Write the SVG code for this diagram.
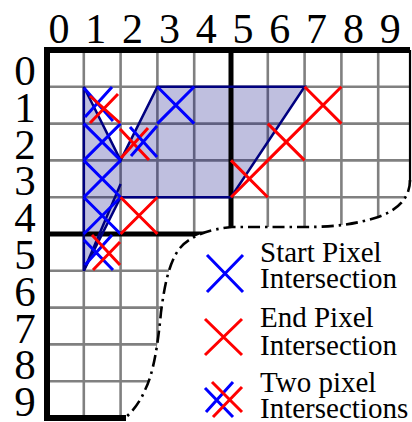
<svg xmlns="http://www.w3.org/2000/svg" width="412" height="422" viewBox="0 0 412 422">
<style>
.lbl{font-family:"Liberation Serif","Times New Roman",serif;fill:#000}
.top{font-size:42px;text-anchor:middle}
.row{font-size:43px;text-anchor:middle}
.leg{font-size:29px}
.grid line{stroke:#808080;stroke-width:2.6}
.b{stroke:#0000ff;stroke-width:3;fill:none}
.r{stroke:#ff0000;stroke-width:3;fill:none}
.thick{stroke:#000;fill:none}
</style>
<defs>
<clipPath id="clip">
<path d="M44,47 H410 V180 C410,200 395,212 375,218 C355,224 335,227 305,227 L232,227 C210,229 190,236 180,248 C168,263 164,290 161,312 C158,345 153,375 145,390 C140,402 133,411 125,418 H44 Z"/>
</clipPath>
</defs>
<g id="col-labels" class="lbl">
<text class="top" x="59" y="43">0</text>
<text class="top" x="95.8" y="43">1</text>
<text class="top" x="132.6" y="43">2</text>
<text class="top" x="169.4" y="43">3</text>
<text class="top" x="206.2" y="43">4</text>
<text class="top" x="243" y="43">5</text>
<text class="top" x="279.8" y="43">6</text>
<text class="top" x="316.6" y="43">7</text>
<text class="top" x="353.4" y="43">8</text>
<text class="top" x="390.2" y="43">9</text>
</g>
<g id="row-labels" class="lbl">
<text class="row" x="25" y="85">0</text>
<text class="row" x="25" y="121.8">1</text>
<text class="row" x="25" y="158.6">2</text>
<text class="row" x="25" y="195.4">3</text>
<text class="row" x="25" y="232.2">4</text>
<text class="row" x="25" y="269">5</text>
<text class="row" x="25" y="305.8">6</text>
<text class="row" x="25" y="342.6">7</text>
<text class="row" x="25" y="379.4">8</text>
<text class="row" x="25" y="416.2">9</text>
</g>
<g id="grid" class="grid" clip-path="url(#clip)">
<line x1="83.8" y1="50" x2="83.8" y2="418"/>
<line x1="120.6" y1="50" x2="120.6" y2="418"/>
<line x1="157.4" y1="50" x2="157.4" y2="418"/>
<line x1="194.2" y1="50" x2="194.2" y2="418"/>
<line x1="267.8" y1="50" x2="267.8" y2="418"/>
<line x1="304.6" y1="50" x2="304.6" y2="418"/>
<line x1="341.4" y1="50" x2="341.4" y2="418"/>
<line x1="378.2" y1="50" x2="378.2" y2="418"/>
<line x1="47" y1="86.8" x2="412" y2="86.8"/>
<line x1="47" y1="123.6" x2="412" y2="123.6"/>
<line x1="47" y1="160.4" x2="412" y2="160.4"/>
<line x1="47" y1="197.2" x2="412" y2="197.2"/>
<line x1="47" y1="270.8" x2="412" y2="270.8"/>
<line x1="47" y1="307.6" x2="412" y2="307.6"/>
<line x1="47" y1="344.4" x2="412" y2="344.4"/>
<line x1="47" y1="381.2" x2="412" y2="381.2"/>
</g>
<g id="shape">
<path d="M83.8,86.8 L120.6,160.4 L157.4,86.8 L304.6,86.8 L231,197.2 L120.6,197.2 L83.8,270.8 Z" fill="#000080" fill-opacity="0.25" stroke="none"/>
</g>
<g id="borders" clip-path="url(#clip)">
<line class="thick" x1="231" y1="50" x2="231" y2="240" stroke-width="5"/>
<line class="thick" x1="44" y1="234" x2="231" y2="234" stroke-width="5"/>
</g>
<g id="frame">
<line class="thick" x1="44" y1="50" x2="410" y2="50" stroke-width="6"/>
<line class="thick" x1="47" y1="47" x2="47" y2="421" stroke-width="6"/>
<line class="thick" x1="44" y1="418" x2="126" y2="418" stroke-width="6"/>
<line class="thick" x1="410" y1="50" x2="410" y2="182" stroke-width="2.2"/>
<path class="thick" d="M410,180 C410,200 395,212 375,218 C355,224 335,227 305,227 L232,227 C210,229 190,236 180,248 C168,263 164,290 161,312 C158,345 153,375 145,390 C140,402 133,411 125,418" stroke-width="2.6" stroke-dasharray="12,5,2.5,5"/>
</g>
<g id="outline" fill="none" stroke="#000080" stroke-width="2.5" stroke-linejoin="miter">
<path d="M83.8,86.8 L120.6,160.4 L157.4,86.8 L304.6,86.8 L231,197.2 L120.6,197.2 L83.8,270.8 Z"/>
<path d="M83.8,270.8 L120.6,184"/>
</g>
<g id="start-x">
<path class="b" d="M157.4,86.8 L194.2,123.6 M194.2,86.8 L157.4,123.6"/>
<path class="b" d="M83.8,123.6 L120.6,160.4 M120.6,123.6 L83.8,160.4"/>
<path class="b" d="M83.8,160.4 L120.6,197.2 M120.6,160.4 L83.8,197.2"/>
<path class="b" d="M83.8,197.2 L120.6,234 M120.6,197.2 L83.8,234"/>
</g>
<g id="end-x">
<path class="r" d="M304.6,86.8 L341.4,123.6 M341.4,86.8 L304.6,123.6"/>
<path class="r" d="M267.8,123.6 L304.6,160.4 M304.6,123.6 L267.8,160.4"/>
<path class="r" d="M231,160.4 L267.8,197.2 M267.8,160.4 L231,197.2"/>
<path class="r" d="M120.6,197.2 L157.4,234 M157.4,197.2 L120.6,234"/>
</g>
<g id="two-x">
<path class="b" d="M84,88 L113,121 M112,87 L85,117"/>
<path class="r" d="M90,96 L120,123 M118,94 L90,123"/>
<path class="r" d="M120,129 L149,160 M148,128 L121,158"/>
<path class="b" d="M130,127 L157,157 M157,126 L131,156"/>
<path class="b" d="M84,240 L113,270 M112,235 L85,265"/>
<path class="r" d="M92,235 L120,265 M120,242 L93,270"/>
</g>
<g id="legend">
<path class="b" d="M207,255 L243,292 M243,255 L207,292"/>
<path class="r" d="M205,319 L242,355 M242,319 L205,355"/>
<path class="b" d="M205,388 L233,417 M233,382 L206,412"/>
<path class="r" d="M212,382 L242,412 M242,387 L213,417"/>
<text class="lbl leg" x="260" y="262">Start Pixel</text>
<text class="lbl leg" x="260" y="288">Intersection</text>
<text class="lbl leg" x="260" y="327">End Pixel</text>
<text class="lbl leg" x="260" y="355">Intersection</text>
<text class="lbl leg" x="260" y="392">Two pixel</text>
<text class="lbl leg" x="260" y="418">Intersections</text>
</g>
</svg>
